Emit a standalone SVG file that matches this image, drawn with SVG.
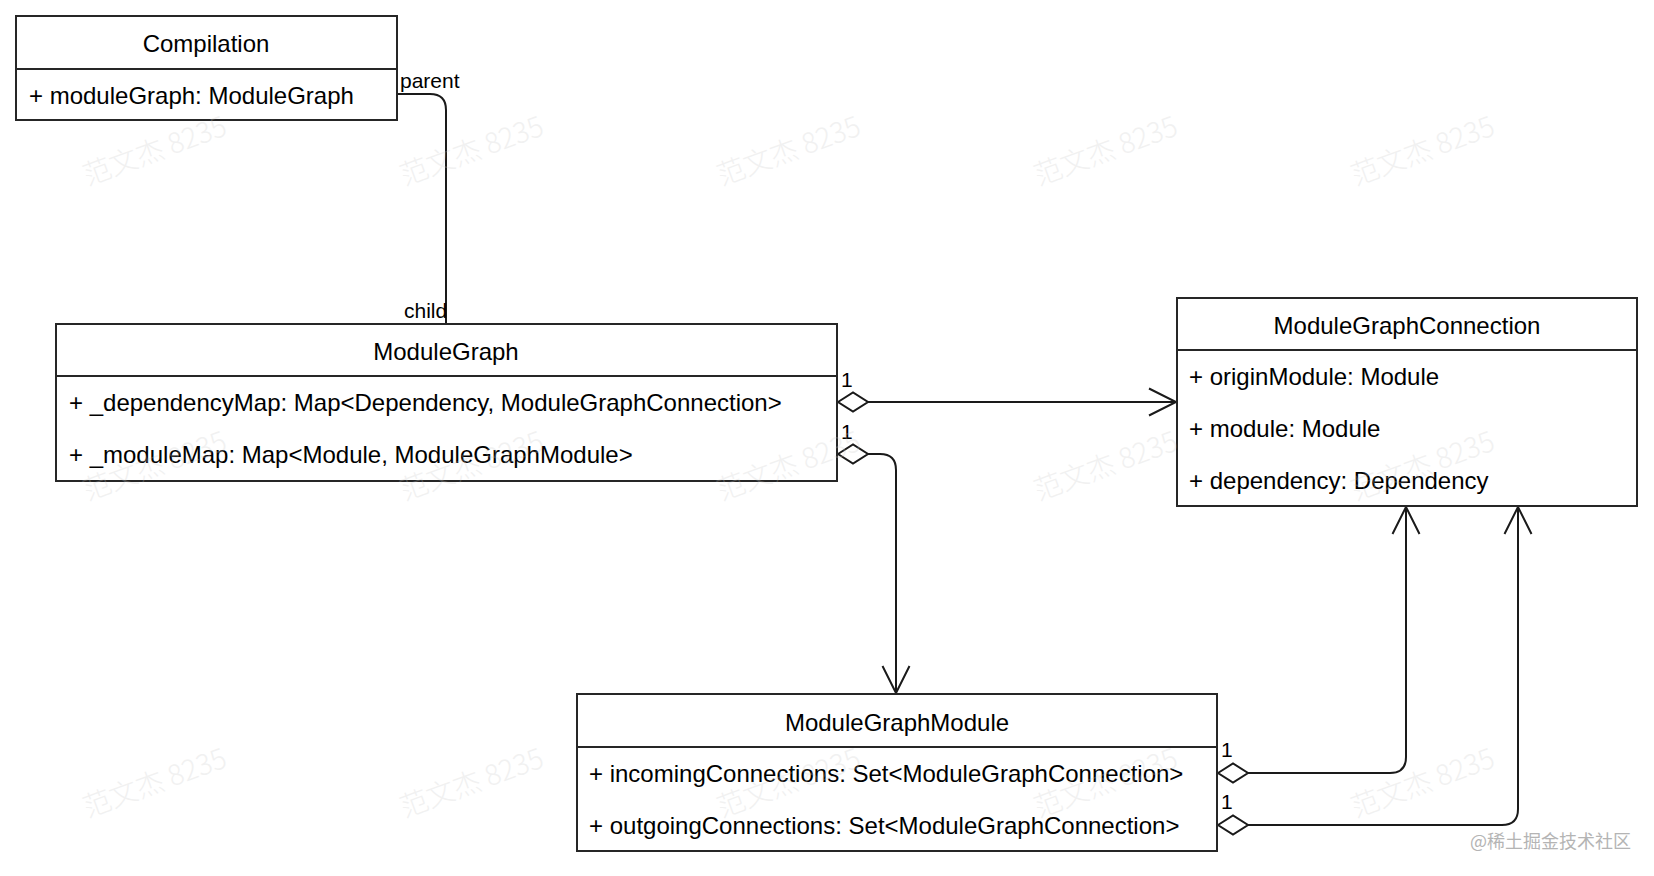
<svg xmlns="http://www.w3.org/2000/svg" width="1654" height="876" viewBox="0 0 1654 876">
<style>
.box{fill:#fff;stroke:#262626;stroke-width:2}
.div{stroke:#262626;stroke-width:2}
.t{font-family:"Liberation Sans",Arial,Helvetica,sans-serif;font-size:24px;fill:#000}
.c{text-anchor:middle}
.lbl{font-family:"Liberation Sans",Arial,Helvetica,sans-serif;font-size:21px;fill:#000}
.edge{fill:none;stroke:#1a1a1a;stroke-width:2}
.wm{font-family:"Noto Sans CJK SC","Liberation Sans",sans-serif;font-size:28px;font-weight:300;fill:#c8c8c8;opacity:0.25;text-anchor:middle}
.site{font-family:"Noto Sans CJK SC","Liberation Sans",sans-serif;font-size:18px;fill:#b4b4b4}
</style>
<defs>
<marker id="dia" markerUnits="userSpaceOnUse" markerWidth="40" markerHeight="30" refX="0" refY="0" orient="auto" style="overflow:visible">
<path d="M0,0 L15,-9.5 L30,0 L15,9.5 Z" fill="#fff" stroke="#1a1a1a" stroke-width="2"/>
</marker>
<marker id="arr" markerUnits="userSpaceOnUse" markerWidth="40" markerHeight="40" refX="0" refY="0" orient="auto" style="overflow:visible">
<path d="M-27,-13.5 L0,0 L-27,13.5" fill="none" stroke="#1a1a1a" stroke-width="2"/>
</marker>
</defs>
<rect width="1654" height="876" fill="#fff"/>

<g id="connectors">
<path class="edge" d="M397,94 H430 Q446,94 446,110 V324"/>
<path class="edge" d="M838,402 H1176" marker-start="url(#dia)" marker-end="url(#arr)"/>
<path class="edge" d="M838,454 H880 Q896,454 896,470 V693" marker-start="url(#dia)" marker-end="url(#arr)"/>
<path class="edge" d="M1218,773 H1390 Q1406,773 1406,757 V507" marker-start="url(#dia)" marker-end="url(#arr)"/>
<path class="edge" d="M1218,825 H1502 Q1518,825 1518,809 V507" marker-start="url(#dia)" marker-end="url(#arr)"/>
<text class="lbl" x="400" y="88">parent</text>
<text class="lbl" x="404" y="318">child</text>
<text class="lbl" x="841" y="387">1</text>
<text class="lbl" x="841" y="439">1</text>
<text class="lbl" x="1221" y="757">1</text>
<text class="lbl" x="1221" y="809">1</text>
</g>

<g id="Compilation">
<rect class="box" x="16" y="16" width="381" height="104"/>
<line class="div" x1="16" y1="69" x2="397" y2="69"/>
<text class="t c" x="206" y="52">Compilation</text>
<text class="t" x="29" y="104">+ moduleGraph: ModuleGraph</text>
</g>

<g id="ModuleGraph">
<rect class="box" x="56" y="324" width="781" height="157"/>
<line class="div" x1="56" y1="376" x2="837" y2="376"/>
<text class="t c" x="446" y="360">ModuleGraph</text>
<text class="t" x="69" y="411">+ _dependencyMap: Map&lt;Dependency, ModuleGraphConnection&gt;</text>
<text class="t" x="69" y="463">+ _moduleMap: Map&lt;Module, ModuleGraphModule&gt;</text>
</g>

<g id="ModuleGraphConnection">
<rect class="box" x="1177" y="298" width="460" height="208"/>
<line class="div" x1="1177" y1="350" x2="1637" y2="350"/>
<text class="t c" x="1407" y="334">ModuleGraphConnection</text>
<text class="t" x="1189" y="385">+ originModule: Module</text>
<text class="t" x="1189" y="437">+ module: Module</text>
<text class="t" x="1189" y="489">+ dependency: Dependency</text>
</g>

<g id="ModuleGraphModule">
<rect class="box" x="577" y="694" width="640" height="157"/>
<line class="div" x1="577" y1="747" x2="1217" y2="747"/>
<text class="t c" x="897" y="731">ModuleGraphModule</text>
<text class="t" x="589" y="782">+ incomingConnections: Set&lt;ModuleGraphConnection&gt;</text>
<text class="t" x="589" y="834">+ outgoingConnections: Set&lt;ModuleGraphConnection&gt;</text>
</g>

<g id="watermark">
<text class="wm" transform="translate(158,160) rotate(-20)">范文杰 8235</text>
<text class="wm" transform="translate(475,160) rotate(-20)">范文杰 8235</text>
<text class="wm" transform="translate(792,160) rotate(-20)">范文杰 8235</text>
<text class="wm" transform="translate(1109,160) rotate(-20)">范文杰 8235</text>
<text class="wm" transform="translate(1426,160) rotate(-20)">范文杰 8235</text>
<text class="wm" transform="translate(158,475) rotate(-20)">范文杰 8235</text>
<text class="wm" transform="translate(475,475) rotate(-20)">范文杰 8235</text>
<text class="wm" transform="translate(792,475) rotate(-20)">范文杰 8235</text>
<text class="wm" transform="translate(1109,475) rotate(-20)">范文杰 8235</text>
<text class="wm" transform="translate(1426,475) rotate(-20)">范文杰 8235</text>
<text class="wm" transform="translate(158,792) rotate(-20)">范文杰 8235</text>
<text class="wm" transform="translate(475,792) rotate(-20)">范文杰 8235</text>
<text class="wm" transform="translate(792,792) rotate(-20)">范文杰 8235</text>
<text class="wm" transform="translate(1109,792) rotate(-20)">范文杰 8235</text>
<text class="wm" transform="translate(1426,792) rotate(-20)">范文杰 8235</text>
<text class="site" x="1470" y="848">@稀土掘金技术社区</text>
</g>
</svg>
